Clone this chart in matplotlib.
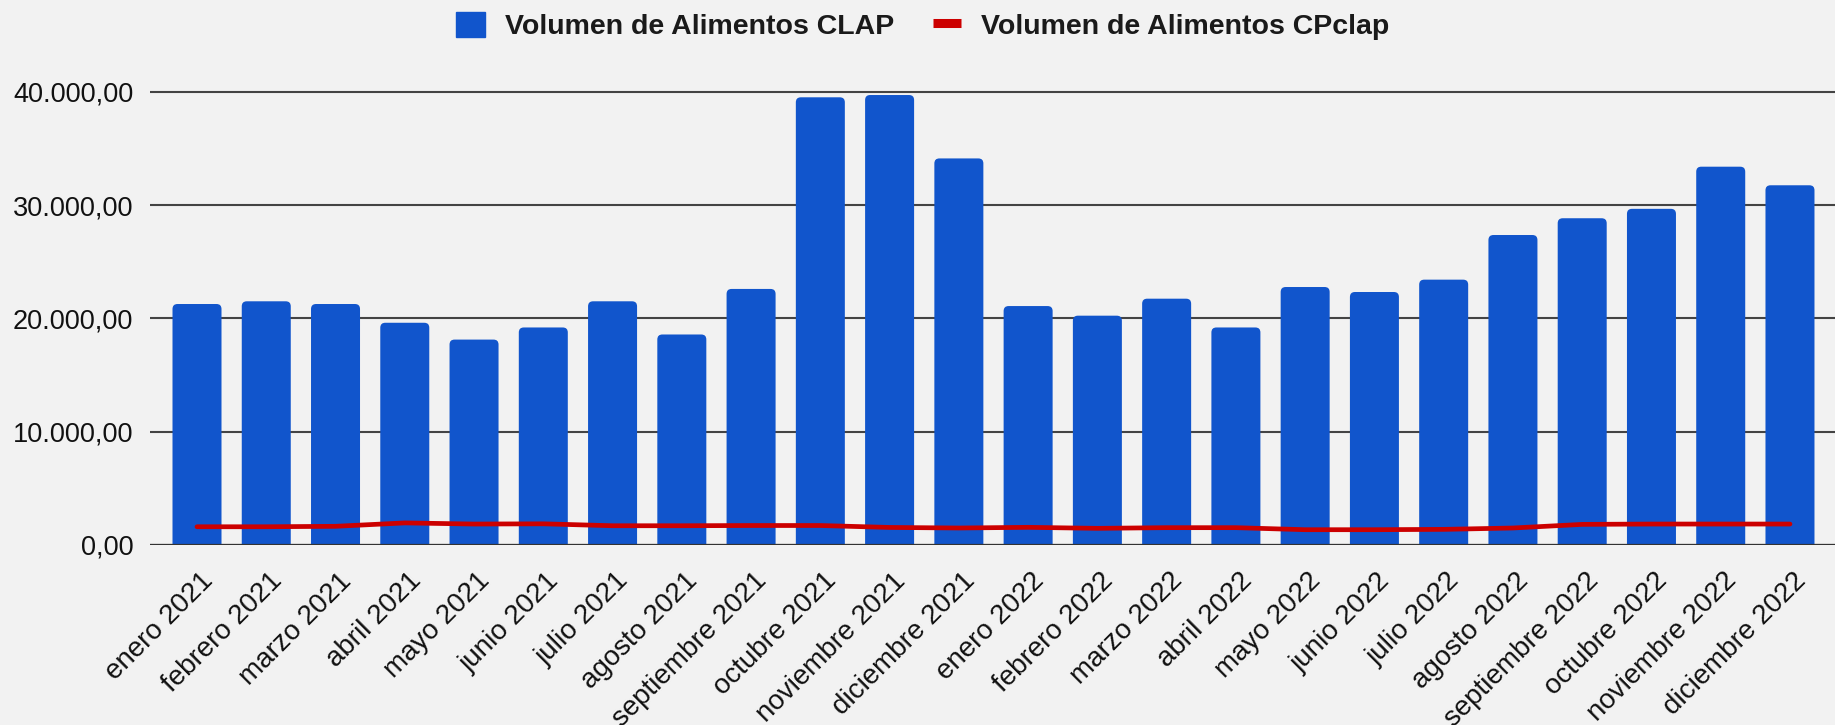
import numpy as np
import matplotlib
matplotlib.use('Agg')
import matplotlib.pyplot as plt
from matplotlib.ticker import FuncFormatter
from matplotlib.patches import Patch, FancyBboxPatch
from matplotlib.lines import Line2D
from matplotlib.transforms import ScaledTranslation

meses = ['enero', 'febrero', 'marzo', 'abril', 'mayo', 'junio', 'julio',
         'agosto', 'septiembre', 'octubre', 'noviembre', 'diciembre']
anios = [2021, 2022]
etiquetas = [f'{m} {a}' for a in anios for m in meses]

# volumen CLAP (barras)
clap = [21270, 21510, 21270, 19615, 18130, 19200, 21510, 18580, 22600, 39515, 39716, 34120,
        21090, 20240, 21740, 19200, 22770, 22330, 23420, 27360, 28840, 29670, 33390, 31750]
# volumen CPclap (linea)
cpclap = [1610, 1610, 1650, 1950, 1850, 1870, 1700, 1700, 1720, 1720, 1550, 1500,
          1560, 1470, 1530, 1530, 1350, 1350, 1380, 1500, 1820, 1850, 1850, 1850]

AZUL = '#1155cc'
ROJO = '#cc0000'
FONDO = '#f2f2f2'

plt.rcParams['font.family'] = ['Liberation Sans', 'DejaVu Sans']

W, H = 1835, 725
fig = plt.figure(figsize=(W / 100, H / 100), dpi=100, facecolor=FONDO)

# area del grafico en pixeles
left, right, base = 150, 1835, 545
px_per_10k = 113.3
ytop = 40400
top = base - ytop / 10000 * px_per_10k
ax = fig.add_axes([left / W, 1 - base / H, (right - left) / W, (base - top) / H])
ax.set_facecolor(FONDO)

x = np.arange(len(etiquetas))
paso = 69.26
x0 = -47 / paso
ax.set_xlim(x0, x0 + (right - left) / paso)
ax.set_ylim(0, ytop)

# barras con esquinas superiores redondeadas
bars = ax.bar(x, clap, width=0.7075, color=AZUL, zorder=2)
r = 5 / paso                       # radio en unidades x
asp = (10000 / px_per_10k) / (1 / paso)
for b in bars:
    b.set_visible(False)
    ry = r * asp
    ax.add_patch(FancyBboxPatch((b.get_x(), b.get_y() - ry), b.get_width(), b.get_height() + ry,
                                boxstyle=f'round,pad=0,rounding_size={r}',
                                mutation_aspect=asp, fc=AZUL, ec='none', zorder=2))

ax.axhline(0, color='#333333', lw=1.6, zorder=3)
ax.plot(x, cpclap, color=ROJO, lw=3.4, zorder=4, solid_capstyle='round')

ax.set_yticks(range(0, 40001, 10000))
ax.yaxis.set_major_formatter(FuncFormatter(
    lambda v, p: f'{v:,.2f}'.replace(',', 'X').replace('.', ',').replace('X', '.')))
ax.yaxis.grid(True, color='#444444', lw=1.5)
ax.set_axisbelow(True)
for s in ax.spines.values():
    s.set_visible(False)

ax.tick_params(axis='y', length=0, pad=12, labelsize=19.5, labelcolor='#111111')
ax.set_xticks(x, etiquetas)
ax.tick_params(axis='x', length=0, pad=26.6, labelsize=20, labelcolor='#111111')
desplazo = ScaledTranslation(17 / 100, 0, fig.dpi_scale_trans)
for lab in ax.get_xticklabels():
    lab.set_rotation(45)
    lab.set_ha('right')
    lab.set_va('baseline')
    lab.set_rotation_mode('anchor')
    lab.set_transform(lab.get_transform() + desplazo)

handles = [Patch(facecolor=AZUL, edgecolor=AZUL, joinstyle='round'),
           Line2D([0], [0], color=ROJO, lw=6.5, solid_capstyle='butt')]
fig.legend(handles, ['Volumen de Alimentos CLAP', 'Volumen de Alimentos CPclap'],
           loc='center', bbox_to_anchor=(0.503, 0.964), ncol=2, frameon=False,
           prop={'weight': 'bold', 'size': 20.5}, labelcolor='#1a1a1a',
           handlelength=1.0, handleheight=1.0, handletextpad=0.7,
           columnspacing=1.37, borderpad=0)

fig.savefig('out.png', dpi=100, facecolor=fig.get_facecolor())
